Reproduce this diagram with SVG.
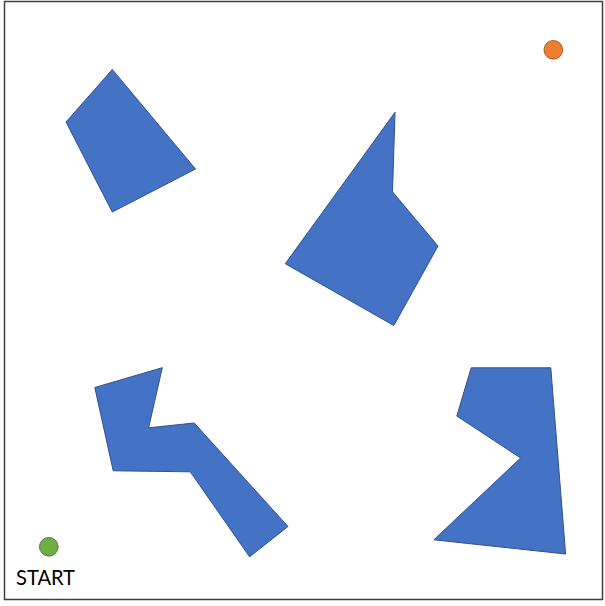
<svg xmlns="http://www.w3.org/2000/svg" width="605" height="606" viewBox="0 0 605 606">
  <style>
    .obstacle { fill: #4472C4; stroke: #2F528F; stroke-width: 1; stroke-linejoin: miter; }
    .label { font-family: Lato, "Liberation Sans", sans-serif; font-size: 21.5px; fill: #000000; }
  </style>
  <rect x="0" y="0" width="605" height="606" fill="#FFFFFF"/>
  <rect id="frame" x="4.5" y="1.5" width="598" height="598" fill="none" stroke="#404040" stroke-width="1.5"/>
  <g id="obstacle1">
    <polygon class="obstacle" points="112.3,69.5 195.5,169 112.3,212 66,122"/>
  </g>
  <g id="obstacle2">
    <polygon class="obstacle" points="395,112.3 392.5,191.8 438,246 393.8,325.5 285.3,263.7"/>
  </g>
  <g id="obstacle3">
    <polygon class="obstacle" points="162.3,367.7 148.6,427.8 194.2,423 288,526.5 249.6,556.8 190.3,471.8 113.2,470.8 94.8,387.5"/>
  </g>
  <g id="obstacle4">
    <polygon class="obstacle" points="471.2,367.8 550.8,367.8 565.6,554 433.9,539.8 520.6,458 456.8,416"/>
  </g>
  <g id="goal">
    <circle cx="553.3" cy="49.8" r="9.3" fill="#ED7D31" stroke="#AE5A21" stroke-width="1"/>
  </g>
  <g id="start">
    <circle cx="48.8" cy="546.8" r="9.3" fill="#70AD47" stroke="#507E32" stroke-width="1"/>
    <text class="label" x="16" y="584.5" textLength="59" lengthAdjust="spacingAndGlyphs">START</text>
  </g>
  <g id="connectors"/>
</svg>
